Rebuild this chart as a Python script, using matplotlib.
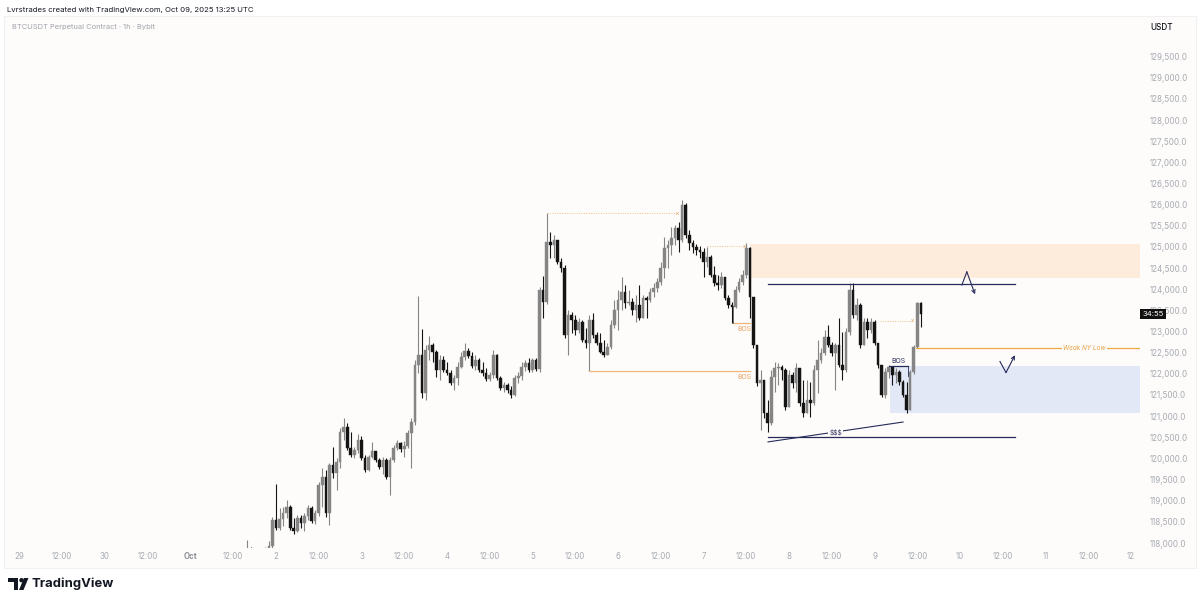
import matplotlib
matplotlib.use("Agg")
import matplotlib.pyplot as plt
from matplotlib.patches import Rectangle, Polygon, Circle
import numpy as np

plt.rcParams['font.family'] = ['Inter', 'DejaVu Sans']

# ---------------------------------------------------------------------------
# BTCUSDT 1h candles, hour 0 = Oct 2 00:00 UTC (first candle Oct 1 16:00)
# ---------------------------------------------------------------------------
first_hour = -8
first_open = 117750

closes = [
    117850, 117700, 117650, 117760, 117700, 117800, 117920, 118540,
    118350, 118570, 118710, 118850, 118350, 118280, 118590, 118470, 118640, 118830,
    118520, 118710, 119370, 119560, 118710, 119840, 119650, 119910, 120620, 120740,
    120250, 120080, 120200, 120430, 120010, 119730, 120030, 120170, 119960, 119800,
    119960, 119560, 119960, 120250, 120360, 120220, 120290, 120600, 120860, 122210,
    122440, 121550, 122560, 122680, 122520, 122090, 122330, 122090, 122020, 121780,
    121900, 122160, 122400, 122540, 122420, 122180, 122330, 122090, 122020, 121880,
    121970, 122440, 121900, 121660, 121740, 121620, 121500, 121900, 121950, 122160,
    122260, 122090, 122330, 122110, 123980, 123700, 125120, 125040, 125160, 124640,
    124500, 122920, 123390, 123270, 123040, 123220, 122800, 122730, 123270, 122920,
    122730, 122520, 122440, 122630, 123150, 123510, 123740, 123930, 123670, 123700,
    123510, 123630, 123320, 123790, 123740, 123930, 124030, 124170, 124500, 124970,
    125040, 125210, 125450, 125160, 125990, 125280, 125090, 125000, 124930, 124880,
    124640, 124760, 124340, 124150, 124100, 124290, 123790, 123630, 123580, 123980,
    124170, 124340, 124970, 123810, 122680, 121780, 121850, 121070, 120840, 121920,
    122140, 122160, 122090, 121220, 121970, 121780, 122140, 121310, 121070, 121380,
    121310, 122090, 122330, 122490, 122870, 122680, 122490, 122680, 122210, 122090,
    122990, 123980, 123390, 123630, 122680, 123220, 123040, 123220, 122730, 122210,
    121500, 122040, 122160, 121970, 122040, 121810, 121500, 121140, 122040, 122630,
    123670, 123410,
]

highs = [
    118080, 117900, 117780, 117850, 117840, 117900, 118040, 118610,
    119400, 118830, 118850, 119020, 118900, 118590, 118660, 118660, 118710, 118900,
    118870, 118780, 119440, 119770, 119730, 119890, 120270, 120010, 120720, 120950,
    120840, 120620, 120270, 120580, 120530, 120080, 120080, 120390, 120170, 120010,
    120030, 120000, 120030, 120320, 120430, 120390, 120410, 120670, 120950, 122330,
    123840, 123060, 122680, 122890, 122730, 122560, 122440, 122420, 122280, 122090,
    121970, 122280, 122520, 122730, 122610, 122520, 122440, 122370, 122280, 122140,
    122040, 122560, 122470, 121950, 121810, 121780, 121710, 121970, 122040, 122280,
    122330, 122370, 122370, 122370, 124050, 124310, 125800, 125350, 125280, 125160,
    124740, 124570, 123510, 123460, 123390, 123320, 123270, 123080, 123390, 123440,
    122990, 122970, 122800, 122730, 123270, 123740, 123980, 124290, 124100, 123980,
    123790, 123860, 124100, 123860, 123840, 124030, 124150, 124260, 124640, 125230,
    125160, 125470, 125520, 125590, 126110, 126040, 125400, 125160, 125070, 125020,
    124970, 124990, 124800, 124550, 124340, 124410, 124290, 123860, 123700, 124080,
    124260, 124450, 125090, 125000, 123810, 122680, 122090, 121850, 121380, 122090,
    122280, 122260, 122210, 122140, 122090, 122040, 122260, 122140, 121850, 121850,
    121800, 122210, 122800, 122610, 123040, 123150, 122750, 122730, 123320, 122990,
    123080, 124150, 124150, 123790, 123670, 123320, 123320, 123320, 123270, 122730,
    122210, 122140, 122210, 122190, 122140, 122090, 121850, 121800, 122090, 122680,
    123700, 123700,
]

lows = [
    117700, 117600, 117520, 117600, 117620, 117660, 117760, 117880,
    118310, 118310, 118400, 118590, 118310, 118210, 118260, 118350, 118280, 118540,
    118470, 118450, 118640, 118850, 118610, 118430, 119540, 119250, 119770, 120430,
    120200, 120030, 120010, 120130, 119960, 119680, 119700, 120010, 119910, 119750,
    119630, 119510, 119130, 119910, 120200, 120150, 120030, 120250, 119770, 120790,
    122020, 121430, 121380, 122330, 122280, 121920, 121850, 122040, 121970, 121740,
    121620, 121740, 122140, 122330, 122370, 122140, 122090, 122040, 121950, 121830,
    121830, 121900, 121850, 121620, 121570, 121550, 121430, 121480, 121780, 121850,
    122070, 122040, 122040, 122070, 122040, 123320, 123650, 124740, 124740, 124600,
    124410, 122850, 122440, 122960, 122920, 122960, 122750, 122610, 122070, 122850,
    122680, 122490, 122400, 122440, 122590, 123080, 123040, 123510, 123560, 123630,
    123390, 123220, 123270, 123320, 123320, 123700, 123820, 123930, 124100, 124260,
    124500, 124810, 125040, 124880, 125120, 125210, 124930, 124860, 124810, 124740,
    124290, 124520, 124290, 124080, 123980, 124030, 123740, 123560, 123200, 123560,
    123930, 124100, 124260, 123320, 122610, 121710, 120670, 120950, 120620, 120790,
    121570, 121740, 121850, 121140, 121220, 121660, 121570, 121240, 120980, 121140,
    120980, 121260, 121550, 122260, 122440, 122630, 122420, 121620, 122160, 121850,
    122040, 122920, 123320, 123270, 122610, 122730, 122850, 122960, 122680, 122140,
    121450, 121430, 121900, 121740, 121780, 121740, 121450, 121070, 121140, 121990,
    122610, 123110,
]

# time axis labels (hours from Oct 2 00:00)
time_ticks = list(range(-72, 241, 12))
time_labels = ['29', '12:00', '30', '12:00', 'Oct', '12:00', '2', '12:00', '3', '12:00',
               '4', '12:00', '5', '12:00', '6', '12:00', '7', '12:00', '8', '12:00',
               '9', '12:00', '10', '12:00', '11', '12:00', '12']
price_ticks = list(range(118000, 129501, 500))

# drawings on the chart (hour, price)
supply_zone = (133, 124270, 125070)
demand_zone = (172.4, 121075, 122190)
range_high = (138.1, 207.4, 124120)
range_low = (138.1, 207.4, 120500)
liquidity_line = [(138.1, 120390), (176.0, 120860)]
bos_levels = [(88, 133, 122070), (128.3, 133, 123200)]
bos_inner = (172, 177.4, 122180)
weak_low = (179.7, 122610)
dotted_highs = [(76.2, 112.6, 125800), (121, 131.6, 125010), (169.5, 178.5, 123250)]
path_down = [(192.5, 124100), (193.9, 124410), (196.2, 123880)]
path_up = [(203.2, 122290), (204.9, 122030), (207.4, 122440)]

# ---------------------------------------------------------------------------
W, H = 1200, 603
fig = plt.figure(figsize=(W / 100, H / 100), dpi=100, facecolor='white')

# background panel + footer (pixel space)
deco = fig.add_axes([0, 0, 1, 1], zorder=-1)
deco.set_xlim(0, W)
deco.set_ylim(H, 0)
deco.axis('off')
deco.add_patch(Rectangle((4, 16), 1192, 552, facecolor='#fdfcfa', edgecolor='#f1f1f1', lw=0.8))
deco.text(7, 10, 'Lvrstrades created with TradingView.com, Oct 09, 2025 13:25 UTC',
          fontsize=5.6, color='#131722', va='center', ha='left')
deco.text(12, 27, 'BTCUSDT Perpetual Contract · 1h · Bybit', fontsize=5.4,
          color='#a0a3ab', va='center', ha='left')
deco.text(1150, 28, 'USDT', fontsize=5.9, color='#131722', va='center', ha='left', fontweight='medium')

# TradingView logo
deco.add_patch(Polygon([(8, 578), (18, 578), (18, 590), (14, 590), (14, 582), (8, 582)],
                       closed=True, facecolor='#131722', edgecolor='none'))
deco.add_patch(Circle((21.5, 580.2), 2.2, facecolor='#131722', edgecolor='none'))
deco.add_patch(Polygon([(19, 590), (23.5, 590), (28.5, 578), (24, 578)],
                       closed=True, facecolor='#131722', edgecolor='none'))
deco.text(32, 584, 'TradingView', fontsize=9.4, fontweight='bold', color='#131722',
          va='center', ha='left')

ax = fig.add_axes([8 / W, 1 - 548 / H, 1132 / W, 531 / H])
ax.set_facecolor('none')
x_left, x_right = -75.2, 242.5
ax.set_xlim(x_left, x_right)
ax.set_ylim(117882, 130435)
for s in ax.spines.values():
    s.set_visible(False)

# candles
hours = np.arange(first_hour, first_hour + len(closes))
c = np.array(closes, dtype=float)
o = np.concatenate([[first_open], c[:-1]])
hi = np.maximum(np.array(highs, dtype=float), np.maximum(o, c))
lo = np.minimum(np.array(lows, dtype=float), np.minimum(o, c))
up = c >= o
colors = np.where(up, '#858585', '#141414')
ax.vlines(hours, lo, hi, colors=colors, lw=0.8, zorder=3)
body = np.maximum(np.abs(c - o), 18)
ax.bar(hours, body, bottom=np.minimum(o, c), width=0.74, color=colors, edgecolor=colors,
       lw=0.3, zorder=4)

# zones
ax.fill_between([supply_zone[0], x_right], supply_zone[1], supply_zone[2],
                color='#fdebdc', lw=0, zorder=1)
ax.fill_between([demand_zone[0], x_right], demand_zone[1], demand_zone[2],
                color='#e3e8f7', lw=0, zorder=1)

navy = '#262b5a'
orange = '#f1b47a'
ax.plot(range_high[:2], [range_high[2]] * 2, color=navy, lw=0.9, zorder=5)
ax.plot(range_low[:2], [range_low[2]] * 2, color=navy, lw=0.9, zorder=5)
lx, ly = zip(*liquidity_line)
ax.plot(lx, ly, color=navy, lw=0.8, zorder=5)
ax.text(np.mean(lx), np.mean(ly), '$$$', fontsize=4.8, color=navy, ha='center', va='center',
        zorder=6, bbox=dict(boxstyle='square,pad=0.15', fc='#fdfcfa', ec='none'))

for x0, x1, lvl in bos_levels:
    ax.plot([x0, x1], [lvl, lvl], color=orange, lw=0.9, zorder=5)
    ax.text(x1 - 1.5, lvl - 80, 'BOS', fontsize=4.9, color='#e9a25e', ha='center', va='top', zorder=6)
ax.plot([bos_levels[1][0]] * 2, [bos_levels[1][2], 123600], color='#555555', lw=0.6, zorder=5)

ax.plot(bos_inner[:2], [bos_inner[2]] * 2, color=navy, lw=0.9, zorder=5)
ax.plot([bos_inner[1]] * 2, [bos_inner[2], 121950], color=navy, lw=0.6, zorder=5)
ax.text(np.mean(bos_inner[:2]), bos_inner[2] + 60, 'BOS', fontsize=5.0, color=navy,
        ha='center', va='bottom', zorder=6)

ax.plot([weak_low[0], x_right], [weak_low[1]] * 2, color='#f0a940', lw=0.9, zorder=5)
ax.text(227, weak_low[1], 'Weak NY Low', fontsize=4.6, color='#e8a040', ha='center', va='center',
        style='italic', zorder=6, bbox=dict(boxstyle='square,pad=0.2', fc='#fdfcfa', ec='none'))

for x0, x1, lvl in dotted_highs:
    ax.plot([x0, x1], [lvl, lvl], color='#f0c080', lw=0.7, ls=(0, (1, 1.5)), zorder=5)
    ax.text(x1, lvl, 'x', fontsize=4.2, color='#d8a060', ha='center', va='center', zorder=6)

for path in (path_down, path_up):
    px, py = zip(*path)
    ax.plot(px[:2], py[:2], color=navy, lw=0.8, zorder=5)
    ax.annotate('', xy=path[2], xytext=path[1],
                arrowprops=dict(arrowstyle='->', color=navy, lw=0.8, shrinkA=0, shrinkB=0,
                                mutation_scale=6), zorder=5)

# axes ticks
ax.yaxis.tick_right()
ax.set_yticks(price_ticks)
ax.set_yticklabels([f'{p:,.1f}' for p in price_ticks])
ax.tick_params(axis='y', length=0, pad=7, labelsize=5.8, labelcolor='#a7aab2')
ax.set_xticks(time_ticks)
ax.set_xticklabels(time_labels)
ax.tick_params(axis='x', length=0, pad=3, labelsize=5.7, labelcolor='#a7aab2')
for lab in ax.get_xticklabels():
    if lab.get_text() == 'Oct':
        lab.set_fontweight('bold')
        lab.set_color('#8a8d96')

# countdown label on last price
ax.text(1.002, closes[-1], '34:55', transform=ax.get_yaxis_transform(), fontsize=5.6,
        color='white', ha='left', va='center', zorder=10, clip_on=False,
        bbox=dict(boxstyle='square,pad=0.3', fc='#111111', ec='none'))

fig.savefig('out.png', dpi=100, facecolor='white')
